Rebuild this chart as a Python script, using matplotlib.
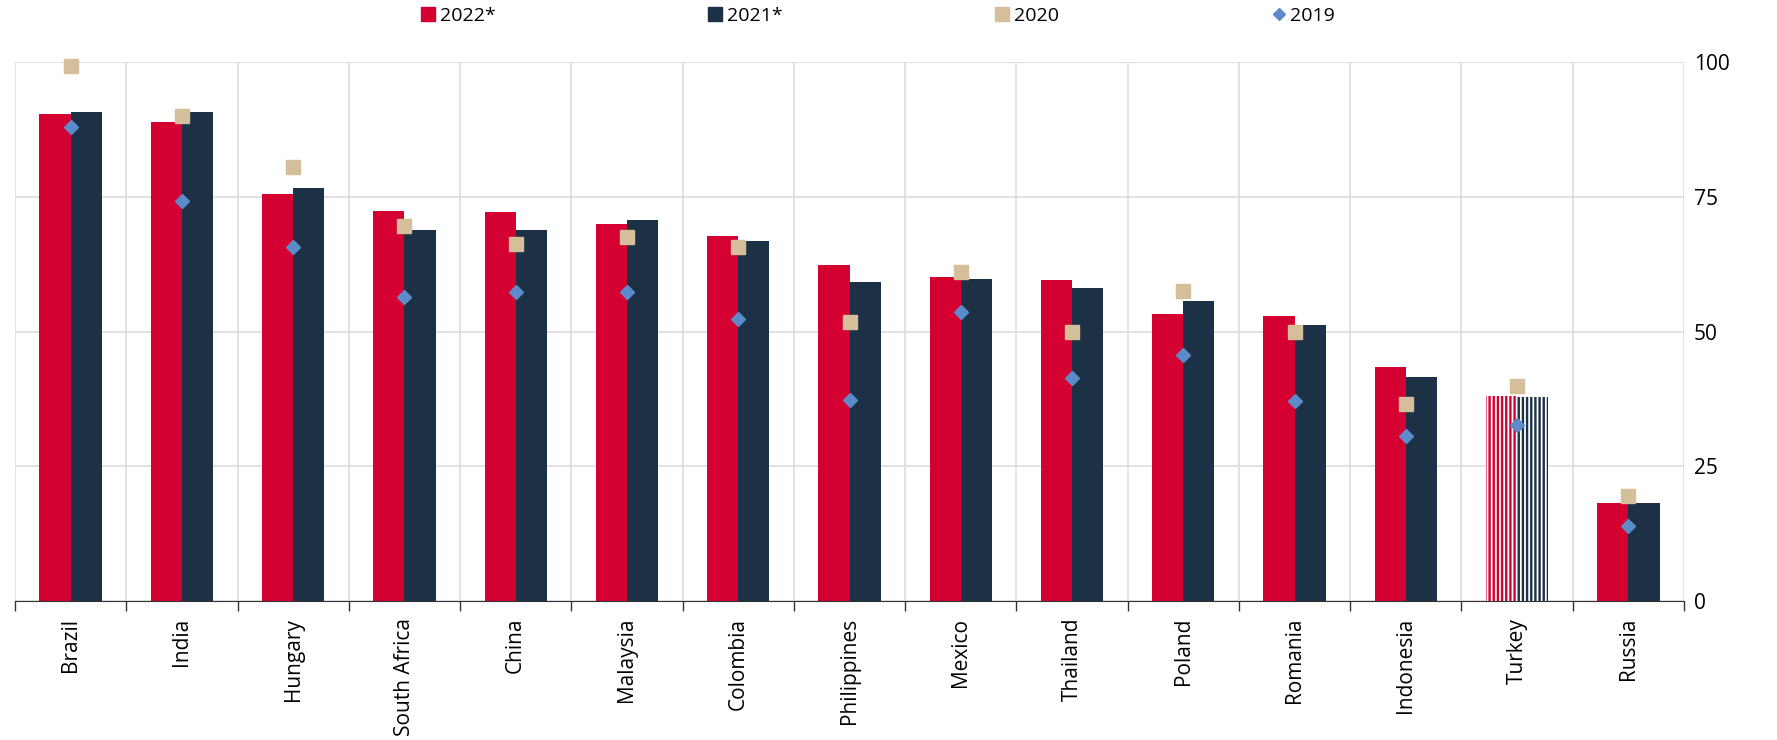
import numpy as np
import matplotlib
matplotlib.use("Agg")
from matplotlib import pyplot as plt
from matplotlib.lines import Line2D

countries = ["Brazil", "India", "Hungary", "South Africa", "China", "Malaysia",
             "Colombia", "Philippines", "Mexico", "Thailand", "Poland", "Romania",
             "Indonesia", "Turkey", "Russia"]
v2022 = [90.3, 88.8, 75.6, 72.4, 72.2, 69.9, 67.8, 62.3, 60.2, 59.6, 53.3, 52.8, 43.4, 38.1, 18.1]
v2021 = [90.7, 90.7, 76.6, 68.8, 68.8, 70.7, 66.7, 59.2, 59.8, 58.1, 55.6, 51.2, 41.5, 37.9, 18.1]
v2020 = [99.2, 89.9, 80.6, 69.5, 66.3, 67.6, 65.7, 51.8, 61.1, 49.9, 57.5, 49.9, 36.6, 39.8, 19.4]
v2019 = [88.0, 74.3, 65.7, 56.4, 57.3, 57.3, 52.4, 37.3, 53.7, 41.3, 45.7, 37.1, 30.7, 32.6, 13.9]
hatched = ["Turkey"]

red = "#D50032"
navy = "#1D3146"
tan = "#D4BF9A"
blue = "#5B8BC9"

plt.rcParams["font.family"] = ["Open Sans", "DejaVu Sans"]
plt.rcParams["hatch.linewidth"] = 1.7

fig = plt.figure(figsize=(17.77, 7.4), dpi=100)
ax = fig.add_axes([15 / 1777, 1 - 601 / 740, (1684 - 15) / 1777, (601 - 62) / 740])

x = np.arange(len(countries)) + 0.5
w = 0.28
for i, c in enumerate(countries):
    if c in hatched:
        ax.bar(x[i] - w / 2, v2022[i], w, color="white", edgecolor=red, hatch="||||", linewidth=0, zorder=2)
        ax.bar(x[i] + w / 2, v2021[i], w, color="white", edgecolor=navy, hatch="||||", linewidth=0, zorder=2)
    else:
        ax.bar(x[i] - w / 2, v2022[i], w, color=red, zorder=2)
        ax.bar(x[i] + w / 2, v2021[i], w, color=navy, zorder=2)

ax.plot(x, v2020, "s", color=tan, markersize=10, zorder=3, clip_on=False)
ax.plot(x, v2019, "D", color=blue, markersize=7, zorder=4, clip_on=False)

ax.set_xlim(0, len(countries))
ax.set_ylim(0, 100)
ax.set_xticks(np.arange(len(countries) + 1))
ax.set_xticklabels([])
ax.set_xticks(x, minor=True)
ax.set_xticklabels(countries, minor=True, rotation=90, fontsize=15)
ax.tick_params(axis="x", which="major", length=7, width=1, color="#333333")
ax.tick_params(axis="x", which="minor", length=0, pad=12)
ax.set_yticks([0, 25, 50, 75, 100])
ax.yaxis.tick_right()
ax.tick_params(axis="y", length=0, labelsize=15, pad=7)
ax.grid(True, which="major", color="#DDDDDD", linewidth=1.2, zorder=0)
ax.set_axisbelow(True)
for s in ["top", "left", "right"]:
    ax.spines[s].set_visible(False)
ax.spines["bottom"].set_color("#333333")

handles = [
    Line2D([], [], marker="s", color=red, linestyle="none", markersize=10),
    Line2D([], [], marker="s", color=navy, linestyle="none", markersize=10),
    Line2D([], [], marker="s", color=tan, linestyle="none", markersize=10),
    Line2D([], [], marker="D", color=blue, linestyle="none", markersize=6),
]
fig.legend(handles, ["2022*", "2021*", "2020", "2019"], loc="center", ncol=4,
           bbox_to_anchor=(0.4945, 0.978), frameon=False, fontsize=14,
           handlelength=0.6, handletextpad=0.3, columnspacing=11.0)

fig.savefig("out.png", dpi=100)
